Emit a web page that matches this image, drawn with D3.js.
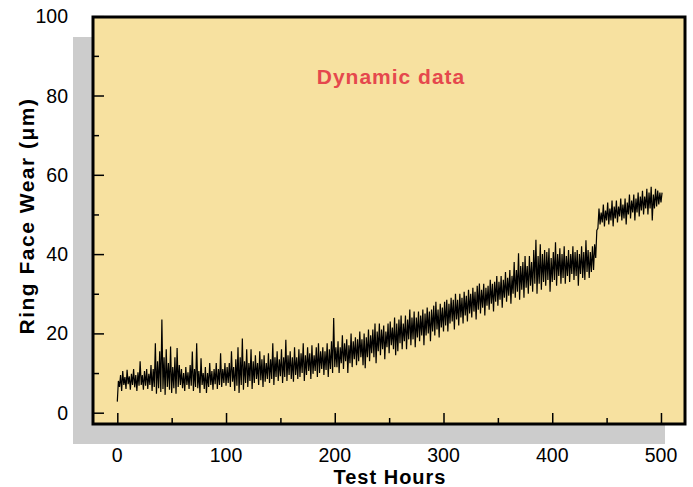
<!DOCTYPE html>
<html>
<head>
<meta charset="utf-8">
<script src="https://cdn.jsdelivr.net/npm/d3@7"></script>
<style>
  body { margin: 0; background: #fff; }
  svg text { font-family: "Liberation Sans", Arial, sans-serif; }
</style>
</head>
<body>
<div id="chart"></div>
<script>
// the record is far denser than the picture, so it is read as the low / high
// of the trace in every 2 h bin (bins at 0, 2, 4 ... 500 h)
var binHours = 2;
var low0to100 = [2.8, 6.5, 5.5, 7.0, 6.0, 7.2, 5.8, 7.0, 6.4, 5.5, 6.8, 7.0, 5.8, 6.8, 6.0, 7.0, 5.5, 6.5, 4.8, 6.2,
  5.2, 6.0, 4.5, 6.5, 5.8, 5.0, 6.2, 4.8, 6.5, 7.0, 6.2, 5.5, 7.0, 6.0, 6.8, 5.5, 6.5, 6.2, 5.0, 7.0,
  6.0, 5.0, 6.5, 7.0, 5.8, 7.2, 6.0, 7.0, 6.5, 7.5, 6.8];
var high0to100 = [8.0, 9.5, 10.5, 9.0, 10.8, 9.2, 9.8, 11.0, 9.5, 10.2, 13.0, 9.5, 10.5, 11.0, 9.8, 12.0, 11.0, 17.5, 13.0, 15.5,
  23.5, 14.0, 16.0, 12.5, 16.7, 11.5, 14.0, 16.3, 12.0, 11.0, 10.0, 11.5, 10.2, 12.0, 15.4, 11.0, 17.5, 10.5, 13.7, 10.0,
  11.5, 10.0, 12.5, 10.5, 11.0, 12.5, 11.0, 15.0, 11.0, 12.5, 11.5];
var low100to200 = [7.5, 6.5, 7.8, 5.5, 6.8, 5.0, 7.0, 5.8, 7.5, 6.5, 8.0, 6.0, 7.5, 8.5, 7.0, 8.2, 6.5, 7.8, 8.5, 7.5,
  8.5, 7.0, 9.0, 8.0, 9.2, 7.5, 9.0, 8.0, 9.5, 8.5, 7.8, 9.5, 8.5, 9.0, 10.0, 8.0, 9.5, 10.5, 8.5, 9.8,
  10.5, 9.0, 10.0, 11.0, 9.5, 10.8, 9.0, 11.0, 10.0, 11.5];
var high100to200 = [12.5, 15.5, 11.5, 13.5, 16.5, 14.0, 18.7, 13.0, 16.0, 12.5, 16.0, 13.0, 14.5, 12.5, 15.5, 13.5, 14.5, 12.5, 15.0, 13.5,
  17.5, 14.0, 15.5, 13.5, 16.0, 14.0, 18.4, 14.5, 15.5, 14.0, 16.5, 14.0, 16.0, 15.0, 17.5, 14.5, 16.5, 15.0, 17.0, 14.5,
  16.5, 17.5, 15.5, 16.5, 15.5, 17.5, 16.0, 18.0, 23.9, 16.5];
var low200to300 = [11.5, 10.0, 12.5, 11.0, 13.0, 10.0, 12.5, 11.5, 13.5, 12.0, 13.0, 14.0, 12.0, 11.2, 14.0, 13.0, 15.0, 14.0, 12.5, 15.5,
  14.5, 16.0, 13.5, 16.5, 15.0, 17.0, 16.0, 14.5, 15.5, 17.5, 16.0, 18.0, 16.0, 18.5, 17.0, 18.5, 16.5, 19.0, 18.0, 19.5,
  17.0, 19.5, 20.0, 18.0, 20.5, 19.5, 21.0, 19.0, 21.5, 20.5];
var high200to300 = [18.0, 16.5, 19.5, 17.5, 18.5, 17.0, 20.0, 18.0, 19.0, 18.5, 20.5, 18.5, 20.0, 19.0, 21.0, 19.5, 21.0, 22.5, 20.5, 22.5,
  21.0, 22.0, 20.5, 22.5, 23.0, 21.5, 24.0, 22.5, 23.5, 24.5, 22.5, 24.5, 23.5, 26.0, 24.0, 25.5, 24.0, 25.5, 24.5, 26.0,
  25.0, 26.5, 25.5, 26.0, 27.0, 28.0, 26.0, 27.5, 26.5, 28.0];
var low300to400 = [22.0, 20.5, 22.5, 23.0, 21.0, 23.5, 22.0, 24.0, 22.5, 24.5, 23.0, 25.0, 24.0, 25.5, 23.5, 26.0, 25.0, 26.5, 24.5, 27.0,
  26.0, 27.5, 25.5, 28.0, 27.0, 28.5, 26.5, 29.0, 28.0, 29.5, 27.5, 30.0, 29.0, 30.5, 28.5, 31.0, 29.0, 31.5, 30.0, 32.0,
  30.5, 32.5, 30.0, 32.5, 31.0, 33.0, 32.0, 33.5, 30.5, 33.0];
var high300to400 = [28.5, 27.5, 29.0, 28.5, 30.0, 28.5, 30.0, 29.0, 30.5, 29.5, 31.0, 30.0, 31.5, 30.5, 32.0, 32.6, 31.0, 32.5, 31.5, 32.0,
  33.5, 32.5, 33.0, 34.5, 33.0, 34.5, 33.5, 35.5, 34.0, 36.0, 34.5, 38.0, 36.0, 40.2, 37.0, 38.0, 39.5, 37.0, 39.5, 38.0,
  41.0, 43.6, 39.5, 42.5, 40.0, 41.0, 40.5, 41.5, 39.0, 40.5];
var low400to500 = [33.5, 32.0, 34.5, 32.5, 34.0, 32.5, 34.5, 33.0, 35.0, 33.5, 34.5, 32.0, 35.0, 34.0, 33.5, 35.5, 34.0, 35.5, 36.0, 39.0,
  46.5, 47.5, 48.0, 47.0, 48.5, 47.5, 48.5, 47.0, 49.0, 48.0, 49.5, 48.5, 49.0, 47.5, 50.0, 49.0, 50.5, 48.5, 50.5, 49.5,
  51.0, 50.0, 51.5, 50.0, 51.5, 48.5, 51.5, 52.0, 52.5, 53.0];
var high400to500 = [43.0, 40.0, 41.5, 40.0, 42.0, 39.5, 41.0, 40.0, 42.0, 40.5, 41.0, 40.0, 42.0, 40.5, 43.5, 41.0, 40.5, 42.0, 42.5, 46.0,
  51.5, 50.5, 52.5, 51.0, 53.0, 51.5, 53.5, 52.0, 53.5, 52.0, 54.0, 52.5, 54.0, 53.0, 55.0, 53.5, 55.0, 54.0, 55.5, 54.5,
  56.0, 54.5, 56.5, 55.5, 57.0, 55.0, 56.5, 56.0, 55.5, 55.5];

var xTicks = [0, 100, 200, 300, 400, 500];
var xMinorTicks = [50, 150, 250, 350, 450];
var yTicks = [0, 20, 40, 60, 80, 100];
var yMinorTicks = [10, 30, 50, 70, 90];

var lows = low0to100.concat(low100to200, low200to300, low300to400, low400to500);
var highs = high0to100.concat(high100to200, high200to300, high300to400, high400to500);

// trace runs low -> high inside each bin
var data = [];
lows.forEach(function(v, i) {
  data.push({ hour: i * binHours, wear: v });
  data.push({ hour: i * binHours + binHours / 2, wear: highs[i] });
});

var width = 693, height = 487;
var plot = { left: 93, top: 17, w: 592, h: 407 };

var svg = d3.select("#chart").append("svg")
    .attr("width", width)
    .attr("height", height);

var x = d3.scaleLinear()
    .domain([-22.35, 522.1])
    .range([plot.left, plot.left + plot.w]);
var y = d3.scaleLinear()
    .domain([-2.85, 99.8])
    .range([plot.top + plot.h, plot.top]);

// drop shadow behind the plot box
svg.append("rect")
    .attr("x", plot.left - 20)
    .attr("y", plot.top + 20)
    .attr("width", plot.w)
    .attr("height", plot.h)
    .attr("fill", "#cccccc");

svg.append("rect")
    .attr("x", plot.left)
    .attr("y", plot.top)
    .attr("width", plot.w)
    .attr("height", plot.h)
    .attr("fill", "#f7e1a0");

svg.append("clipPath").attr("id", "clip")
  .append("rect")
    .attr("x", plot.left)
    .attr("y", plot.top)
    .attr("width", plot.w)
    .attr("height", plot.h);

var line = d3.line()
    .x(function(d) { return x(d.hour); })
    .y(function(d) { return y(d.wear); });

svg.append("path")
    .datum(data)
    .attr("clip-path", "url(#clip)")
    .attr("fill", "none")
    .attr("stroke", "#000")
    .attr("stroke-width", 1.2)
    .attr("d", line);

// inside ticks: major + minor
var axes = [
  { a: d3.axisTop(x).tickValues(xTicks).tickSize(11), t: "translate(0," + (plot.top + plot.h) + ")" },
  { a: d3.axisTop(x).tickValues(xMinorTicks).tickSize(6), t: "translate(0," + (plot.top + plot.h) + ")" },
  { a: d3.axisRight(y).tickValues(yTicks).tickSize(11), t: "translate(" + plot.left + ",0)" },
  { a: d3.axisRight(y).tickValues(yMinorTicks).tickSize(6), t: "translate(" + plot.left + ",0)" }
];
axes.forEach(function(ax) {
  svg.append("g")
      .attr("transform", ax.t)
      .call(ax.a.tickFormat(""))
      .call(function(g) { g.select(".domain").remove(); })
      .selectAll("line").attr("stroke", "#000").attr("stroke-width", 1.5);
});

// frame
svg.append("rect")
    .attr("x", plot.left)
    .attr("y", plot.top)
    .attr("width", plot.w)
    .attr("height", plot.h)
    .attr("fill", "none")
    .attr("stroke", "#000")
    .attr("stroke-width", 3);

// tick labels
svg.selectAll("text.xlab")
    .data(xTicks)
    .enter()
    .append("text")
    .attr("class", "xlab")
    .attr("x", function(d) { return x(d); })
    .attr("y", 462)
    .attr("text-anchor", "middle")
    .attr("font-size", 19.5)
    .text(function(d) { return d; });

svg.selectAll("text.ylab")
    .data(yTicks)
    .enter()
    .append("text")
    .attr("class", "ylab")
    .attr("x", 68)
    .attr("y", function(d) { return y(d) + 7; })
    .attr("text-anchor", "end")
    .attr("font-size", 19.5)
    .text(function(d) { return d; });

svg.append("text")
    .attr("x", 390)
    .attr("y", 484)
    .attr("text-anchor", "middle")
    .attr("font-size", 20)
    .attr("font-weight", 700)
    .attr("letter-spacing", 1)
    .text("Test Hours");

svg.append("text")
    .attr("transform", "translate(34,216) rotate(-90)")
    .attr("text-anchor", "middle")
    .attr("font-size", 21)
    .attr("font-weight", 700)
    .attr("letter-spacing", 1.5)
    .text("Ring Face Wear (\u03bcm)");

svg.append("text")
    .attr("x", 391)
    .attr("y", 84)
    .attr("text-anchor", "middle")
    .attr("font-size", 21)
    .attr("font-weight", 700)
    .attr("letter-spacing", 1)
    .attr("fill", "#e5484d")
    .text("Dynamic data");
</script>
</body>
</html>
